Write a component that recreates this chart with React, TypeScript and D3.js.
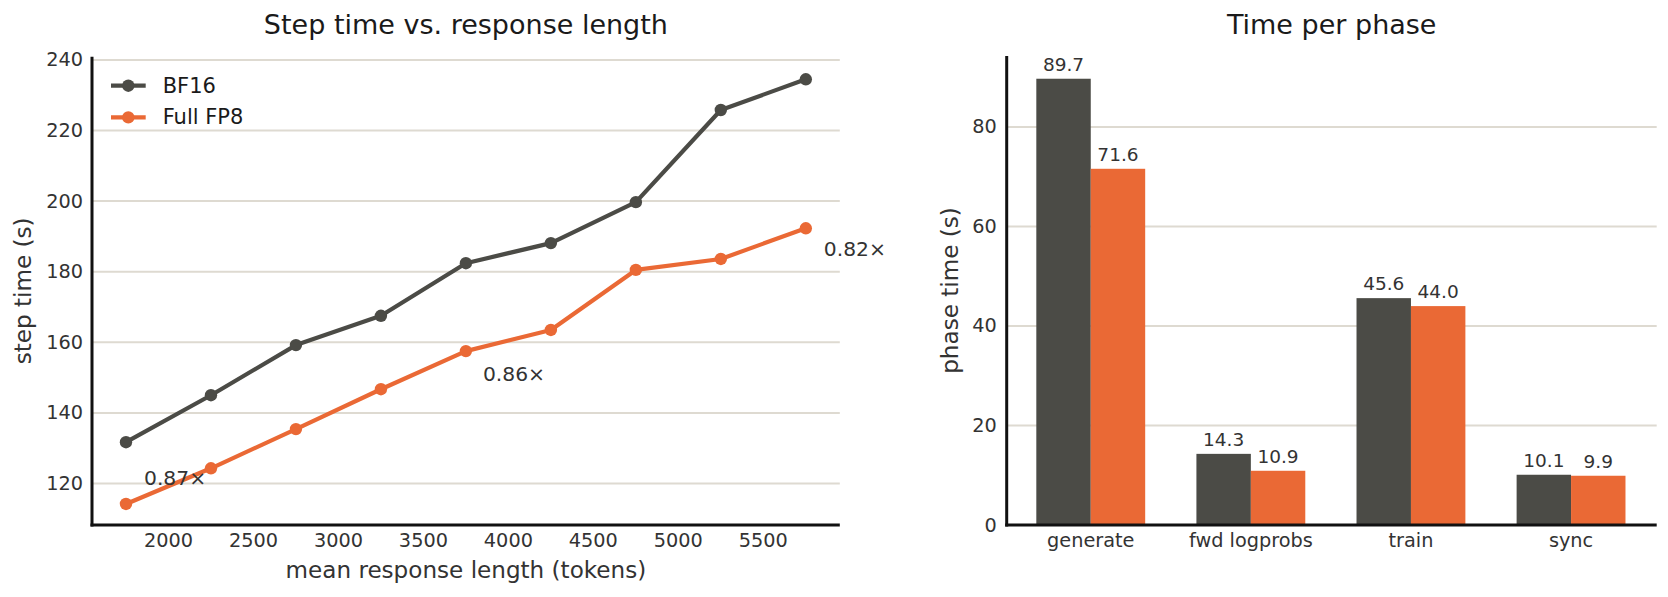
import React from 'react';
import * as d3 from 'd3';

// step time vs. mean response length
const lengths = [1750, 2250, 2750, 3250, 3750, 4250, 4750, 5250, 5750];
const bf16Step = [131.7, 145.0, 159.2, 167.5, 182.4, 188.1, 199.7, 225.8, 234.5];
const fp8Step = [114.2, 124.3, 135.4, 146.7, 157.5, 163.5, 180.5, 183.6, 192.3];
const lengthTicks = [2000, 2500, 3000, 3500, 4000, 4500, 5000, 5500];
const stepTicks = [120, 140, 160, 180, 200, 220, 240];
const ratioLabels = [
  { index: 0, label: '0.87×' },
  { index: 4, label: '0.86×' },
  { index: 8, label: '0.82×' },
];

// time per phase
const phases = ['generate', 'fwd logprobs', 'train', 'sync'];
const bf16Phase = [89.7, 14.3, 45.6, 10.1];
const fp8Phase = [71.6, 10.9, 44.0, 9.9];
const phaseTicks = [0, 20, 40, 60, 80];

const series = ['BF16', 'Full FP8'];

const W = 1668;
const H = 597;
const DARK = '#4b4b46';
const ORANGE = '#ea6935';
const GRID = '#dedad1';
const TEXT = '#333333';
const FONT = '"DejaVu Sans", Verdana, sans-serif';

// label offsets (px) from the FP8 point each ratio belongs to
const ratioOffsets = [
  { dx: 18, dy: -19 },
  { dx: 17, dy: 30 },
  { dx: 18, dy: 28 },
];

const App: React.FC = () => {
  // left panel
  const L = { x0: 92, x1: 839.8, yTop: 56.7, yBot: 525 };
  const x = d3.scaleLinear().domain([1550, 5950]).range([L.x0, L.x1]);
  const y = d3.scaleLinear().domain([108.24, 240.9]).range([L.yBot, L.yTop]);

  const line = d3
    .line<number>()
    .x((_, i) => x(lengths[i]))
    .y((d) => y(d));

  // right panel
  const R = { x0: 1006.7, x1: 1656.7, yTop: 56, yBot: 525 };
  const bx = d3.scaleLinear().domain([-0.525, 3.535]).range([R.x0, R.x1]);
  const by = d3.scaleLinear().domain([0, 94.27]).range([R.yBot, R.yTop]);
  const barW = bx(0.34) - bx(0);

  const lines = [
    { name: series[0], values: bf16Step, color: DARK },
    { name: series[1], values: fp8Step, color: ORANGE },
  ];

  return (
    <div style={{ position: 'absolute', left: 0, top: 0 }}>
      <svg width={W} height={H} style={{ display: 'block', background: '#fff' }} fontFamily={FONT}>
        <rect width={W} height={H} fill="#fff" />

        {/* ---------- left: step time ---------- */}
        <text x={(L.x0 + L.x1) / 2} y={34} textAnchor="middle" fontSize={27} fill="#1a1a1a">
          Step time vs. response length
        </text>

        {stepTicks.map((t) => (
          <g key={`sg${t}`}>
            <line x1={L.x0} x2={L.x1} y1={y(t)} y2={y(t)} stroke={GRID} strokeWidth={2} />
            <text x={L.x0 - 9} y={y(t)} textAnchor="end" dominantBaseline="central" fontSize={19.3} fill={TEXT}>
              {t}
            </text>
          </g>
        ))}

        {lengthTicks.map((t) => (
          <text key={`lx${t}`} x={x(t)} y={547} textAnchor="middle" fontSize={19.3} fill={TEXT}>
            {t}
          </text>
        ))}

        {lines.map((s) => (
          <g key={s.name}>
            <path d={line(s.values) || ''} fill="none" stroke={s.color} strokeWidth={4.2} strokeLinejoin="round" />
            {s.values.map((v, i) => (
              <circle key={i} cx={x(lengths[i])} cy={y(v)} r={6.2} fill={s.color} />
            ))}
          </g>
        ))}

        {ratioLabels.map((r, k) => (
          <text
            key={r.label}
            x={x(lengths[r.index]) + ratioOffsets[k].dx}
            y={y(fp8Step[r.index]) + ratioOffsets[k].dy}
            fontSize={20.3}
            fill={TEXT}
          >
            {r.label}
          </text>
        ))}

        {/* legend */}
        {lines.map((s, i) => (
          <g key={`lg${s.name}`} transform={`translate(0, ${85.7 + i * 31.7})`}>
            <line x1={111} x2={145.7} y1={0} y2={0} stroke={s.color} strokeWidth={4.2} />
            <circle cx={128.3} cy={0} r={6.2} fill={s.color} />
            <text x={162.7} y={0} dominantBaseline="central" fontSize={21} fill="#1a1a1a">
              {s.name}
            </text>
          </g>
        ))}

        <text x={(L.x0 + L.x1) / 2} y={578} textAnchor="middle" fontSize={23.1} fill={TEXT}>
          mean response length (tokens)
        </text>
        <text
          transform={`translate(31, ${(L.yTop + L.yBot) / 2}) rotate(-90)`}
          textAnchor="middle"
          fontSize={23.1}
          fill={TEXT}
        >
          step time (s)
        </text>

        <line x1={L.x0} x2={L.x0} y1={L.yTop} y2={L.yBot + 1.5} stroke="#111" strokeWidth={3} />
        <line x1={L.x0 - 1.5} x2={L.x1} y1={L.yBot} y2={L.yBot} stroke="#111" strokeWidth={3} />

        {/* ---------- right: time per phase ---------- */}
        <text x={(R.x0 + R.x1) / 2} y={34} textAnchor="middle" fontSize={27} fill="#1a1a1a">
          Time per phase
        </text>

        {phaseTicks.map((t) => (
          <g key={`pg${t}`}>
            {t > 0 && <line x1={R.x0} x2={R.x1} y1={by(t)} y2={by(t)} stroke={GRID} strokeWidth={2} />}
            <text x={R.x0 - 10} y={by(t)} textAnchor="end" dominantBaseline="central" fontSize={19.3} fill={TEXT}>
              {t}
            </text>
          </g>
        ))}

        {phases.map((p, i) => {
          const c = bx(i);
          const bars = [
            { v: bf16Phase[i], x0: c - barW, color: DARK },
            { v: fp8Phase[i], x0: c, color: ORANGE },
          ];
          return (
            <g key={p}>
              {bars.map((b, j) => (
                <g key={j}>
                  <rect x={b.x0} y={by(b.v)} width={barW} height={by(0) - by(b.v)} fill={b.color} />
                  <text x={b.x0 + barW / 2} y={by(b.v) - 8} textAnchor="middle" fontSize={18.5} fill={TEXT}>
                    {b.v.toFixed(1)}
                  </text>
                </g>
              ))}
              <text x={c} y={547} textAnchor="middle" fontSize={19.3} fill={TEXT}>
                {p}
              </text>
            </g>
          );
        })}

        <text
          transform={`translate(958, ${(R.yTop + R.yBot) / 2}) rotate(-90)`}
          textAnchor="middle"
          fontSize={23.1}
          fill={TEXT}
        >
          phase time (s)
        </text>

        <line x1={R.x0} x2={R.x0} y1={R.yTop} y2={R.yBot + 1.5} stroke="#111" strokeWidth={3} />
        <line x1={R.x0 - 1.5} x2={R.x1} y1={R.yBot} y2={R.yBot} stroke="#111" strokeWidth={3} />
      </svg>
    </div>
  );
};

export default App;
